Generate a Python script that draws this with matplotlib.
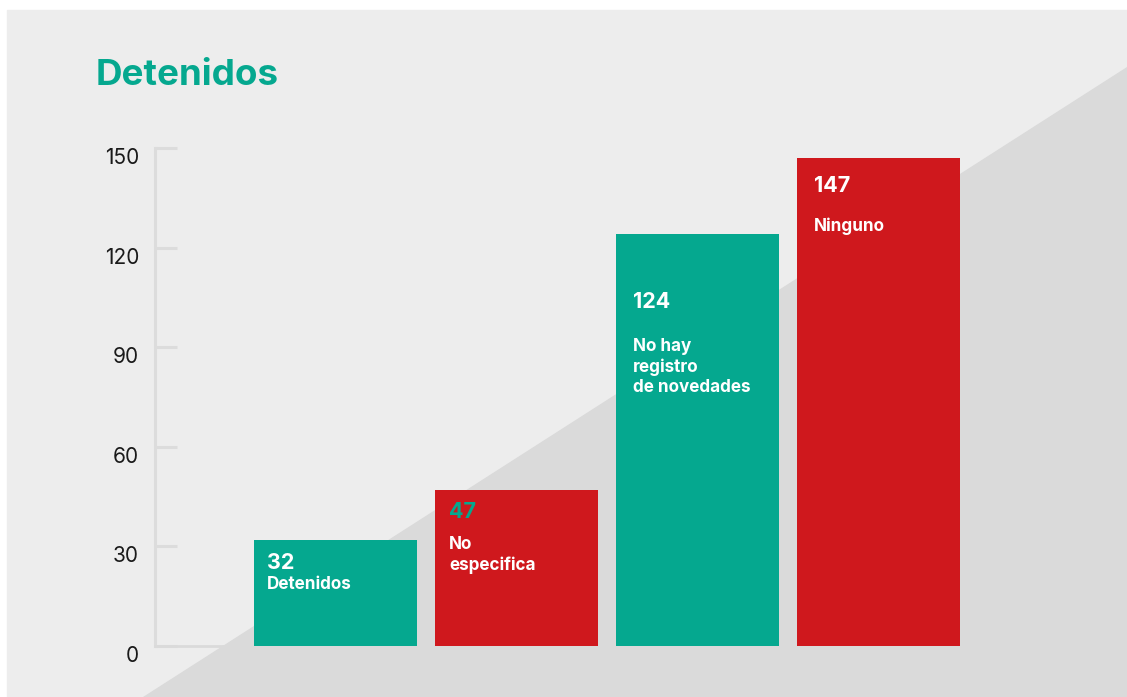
"""Detenidos bar chart on a two-tone grey panel."""

import matplotlib

matplotlib.use("Agg")
import matplotlib.pyplot as plt  # noqa: E402
from matplotlib.patches import Polygon, Rectangle  # noqa: E402

plt.rcParams["font.family"] = ["Inter", "DejaVu Sans"]

# data
categories = ["Detenidos", "No\nespecifica", "No hay\nregistro\nde novedades", "Ninguno"]
values = [32, 47, 124, 147]
yticks = [0, 30, 60, 90, 120, 150]

# styling
TEAL = "#05a88f"
RED = "#cf181d"
bar_colors = [TEAL, RED, TEAL, RED]
value_colors = ["white", TEAL, "white", "white"]
# (left, value baseline, last-line label baseline) pixel offsets from each bar's top-left corner
label_offsets = [(13, 29, 49), (14, 28, 80), (17, 74, 158), (17, 34, 73)]

W, H = 1127, 697
fig = plt.figure(figsize=(W / 100, H / 100), dpi=100, facecolor="white")

# background panel and diagonal shade (figure pixel coords, origin bottom-left)
fig.patches.append(Rectangle((7 / W, 0), 1 - 7 / W, (H - 10) / H,
                             transform=fig.transFigure, color="#ededed", zorder=-2))
fig.patches.append(Polygon([(143 / W, 0), (1, 0), (1, (H - 67) / H)], closed=True,
                           transform=fig.transFigure, color="#dadada", zorder=-1))

ax = fig.add_axes([155 / W, 51 / H, 845 / W, 498 / H])
ax.set_facecolor("none")
ax.set_zorder(1)

x = range(len(values))
bars = ax.bar(x, values, width=163 / 181, color=bar_colors, zorder=3)
ax.set_xlim(-0.997, 3.671)
ax.set_ylim(0, 150)

for b, v, cat, vc, (dx, dv, dl) in zip(bars, values, categories, value_colors, label_offsets):
    ax.annotate(str(v), (b.get_x(), v), xytext=(dx, -dv), textcoords="offset pixels",
                color=vc, fontsize=15.5, fontweight="bold", va="baseline", ha="left", zorder=4)
    ax.annotate(cat, (b.get_x(), v), xytext=(dx, -dl), textcoords="offset pixels",
                color="white", fontsize=12.3, fontweight="bold", va="baseline", ha="left",
                linespacing=1.27, zorder=4)

# axes styling
for s in ("top", "right"):
    ax.spines[s].set_visible(False)
ax.spines["left"].set_color("#dcdcdc")
ax.spines["left"].set_linewidth(2.2)
ax.spines["bottom"].set_color("#dadada")
ax.spines["bottom"].set_linewidth(2)
ax.set_xticks([])
ax.set_yticks(yticks)
ax.tick_params(axis="y", direction="in", length=16, width=2.2, color="#dcdcdc",
               pad=11.5, labelsize=15, labelcolor="#1a1a1a")
shift = matplotlib.transforms.ScaledTranslation(0, -8 / 100, fig.dpi_scale_trans)
for lab in ax.get_yticklabels():
    lab.set_transform(lab.get_transform() + shift)

fig.text(96 / W, (H - 85) / H, "Detenidos", color=TEAL, fontsize=26.5,
         fontweight="bold", ha="left", va="baseline")

fig.savefig("out.png", dpi=100, facecolor=fig.get_facecolor())
